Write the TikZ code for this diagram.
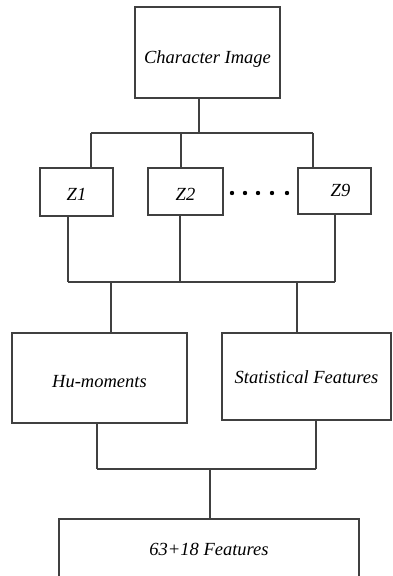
\documentclass[tikz,border=0pt]{standalone}
\usepackage{fontspec}
\setmainfont{Liberation Serif}
\begin{document}
\begin{tikzpicture}[x=1pt,y=-1pt,
  line/.style={draw=black!75,line width=1.1pt},
  box/.style={line,rectangle,inner sep=0pt,text height=17pt,text depth=4pt,
    font=\fontsize{18.5}{22}\selectfont\itshape},
  dot/.style={fill=black,draw=none}]
  \useasboundingbox (0,0) rectangle (392,576);

  % boxes (text height/depth tune where each label sits)
  \node[box,minimum width=145pt,minimum height=91pt,text height=25pt] (char) at (207.5,52.5) {Character Image};
  \node[box,minimum width=73pt,minimum height=48pt,text height=21pt] (z1) at (76.5,192) {Z1};
  \node[box,minimum width=75pt,minimum height=47pt,text height=21pt] (z2) at (185.5,191.5) {Z2};
  \node[box,minimum width=73pt,minimum height=46pt,text depth=6pt] (z9) at (334.5,191) {\hspace*{12pt}Z9};
  \node[box,minimum width=175pt,minimum height=90pt,text height=23pt] (hu) at (99.5,378) {Hu-moments};
  \node[box,minimum width=169pt,minimum height=87pt] (stat) at (306.5,376.5) {Statistical Features};
  \node[box,minimum width=300pt,minimum height=60pt] (feat) at (209,549) {63+18 Features};

  % ellipsis between Z2 and Z9
  \foreach \x in {232,245,258,272,287}
    \fill[dot] (\x,193) circle (2.2pt);

  % junction points
  \coordinate (t)  at (199,133);
  \coordinate (tl) at (91,133);
  \coordinate (tm) at (181,133);
  \coordinate (tr) at (313,133);
  \coordinate (m1) at (68,282);
  \coordinate (m2) at (180,282);
  \coordinate (m3) at (335,282);
  \coordinate (mh) at (111,282);
  \coordinate (ms) at (297,282);
  \coordinate (l1) at (97,469);
  \coordinate (l2) at (316,469);
  \coordinate (lf) at (210,469);

  % character image to the zones
  \draw[line] (char.south -| t) -- (t);
  \draw[line] (tl) -- (tr);
  \draw[line] (tl) -- (tl |- z1.north);
  \draw[line] (tm) -- (tm |- z2.north);
  \draw[line] (tr) -- (tr |- z9.north);

  % zones to the two feature sets
  \draw[line] (z1.south -| m1) -- (m1);
  \draw[line] (z2.south -| m2) -- (m2);
  \draw[line] (z9.south -| m3) -- (m3);
  \draw[line] (m1) -- (m3);
  \draw[line] (mh) -- (mh |- hu.north);
  \draw[line] (ms) -- (ms |- stat.north);

  % feature sets to the combined vector
  \draw[line] (hu.south -| l1) -- (l1);
  \draw[line] (stat.south -| l2) -- (l2);
  \draw[line] (l1) -- (l2);
  \draw[line] (lf) -- (lf |- feat.north);
\end{tikzpicture}
\end{document}
